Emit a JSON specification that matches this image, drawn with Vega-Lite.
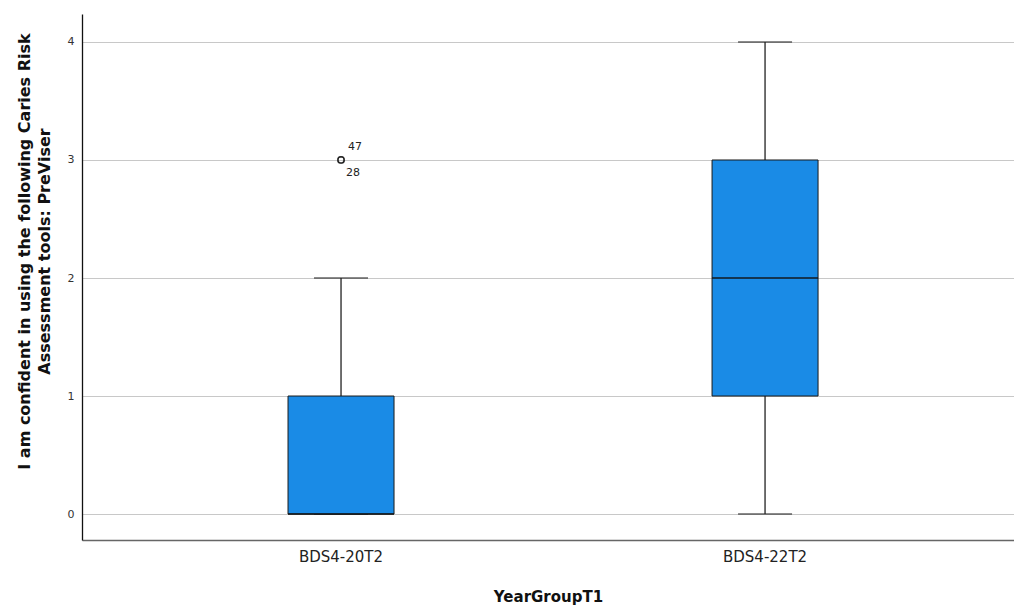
{
  "$schema": "https://vega.github.io/schema/vega-lite/v6.json",
  "autosize": "none",
  "width": 932,
  "height": 526,
  "padding": {"left": 82, "top": 14, "right": 0, "bottom": 68},
  "background": "white",
  "datasets": {
    "stats": [
      {"group": "BDS4-20T2", "min": 0, "q1": 0, "median": 0, "q3": 1, "max": 2},
      {"group": "BDS4-22T2", "min": 0, "q1": 1, "median": 2, "q3": 3, "max": 4}
    ],
    "outliers": [
      {"group": "BDS4-20T2", "value": 3, "label": "47"},
      {"group": "BDS4-20T2", "value": 3, "label": "28"}
    ]
  },
  "config": {
    "view": {"stroke": null},
    "font": "DejaVu Sans"
  },
  "encoding": {
    "x": {
      "field": "group",
      "type": "nominal",
      "sort": ["BDS4-20T2", "BDS4-22T2"],
      "scale": {"paddingOuter": 0.099, "paddingInner": 0, "align": 0.56},
      "axis": {
        "title": "YearGroupT1",
        "titleFontSize": 15,
        "titleFontWeight": "bold",
        "titleColor": "#111",
        "titlePadding": 25,
        "labelAngle": 0,
        "labelFontSize": 15,
        "labelColor": "#222",
        "labelPadding": 9,
        "ticks": false,
        "domainColor": "#666",
        "domainWidth": 1.5,
        "grid": false
      }
    }
  },
  "layer": [
    {
      "data": {"name": "stats"},
      "mark": {"type": "rule", "color": "#222", "strokeWidth": 1.3},
      "encoding": {
        "y": {
          "field": "min",
          "type": "quantitative",
          "scale": {"domain": [-0.22, 4.237], "nice": false, "zero": false},
          "axis": {
            "title": ["I am confident in using the following Caries Risk", "Assessment tools: PreViser"],
            "titleFontSize": 16,
            "titleFontWeight": "bold",
            "titleColor": "#111",
            "titleLineHeight": 20,
            "titleX": -50,
            "titleY": 237,
            "values": [0, 1, 2, 3, 4],
            "format": "d",
            "labelFontSize": 11,
            "labelColor": "#333",
            "labelPadding": 8,
            "ticks": false,
            "domainColor": "#111",
            "domainWidth": 1.3,
            "grid": true,
            "gridColor": "#c8c8c8",
            "gridWidth": 1.2
          }
        },
        "y2": {"field": "max"}
      }
    },
    {
      "data": {"name": "stats"},
      "mark": {"type": "tick", "color": "#222", "size": 54, "thickness": 1.5},
      "encoding": {"y": {"field": "min", "type": "quantitative"}}
    },
    {
      "data": {"name": "stats"},
      "mark": {"type": "tick", "color": "#222", "size": 54, "thickness": 1.5},
      "encoding": {"y": {"field": "max", "type": "quantitative"}}
    },
    {
      "data": {"name": "stats"},
      "mark": {"type": "bar", "size": 106, "color": "#1a8be6", "stroke": "#1a1a1a", "strokeWidth": 1},
      "encoding": {
        "y": {"field": "q1", "type": "quantitative"},
        "y2": {"field": "q3"}
      }
    },
    {
      "data": {"name": "stats"},
      "mark": {"type": "tick", "color": "#111", "size": 106, "thickness": 2},
      "encoding": {"y": {"field": "median", "type": "quantitative"}}
    },
    {
      "data": {"name": "outliers"},
      "mark": {"type": "point", "shape": "circle", "size": 40, "filled": false, "color": "#111", "strokeWidth": 1.4},
      "encoding": {"y": {"field": "value", "type": "quantitative"}}
    },
    {
      "data": {"name": "outliers"},
      "transform": [{"filter": "datum.label == '47'"}],
      "mark": {"type": "text", "dx": 14, "dy": -13, "fontSize": 11, "color": "#222"},
      "encoding": {"y": {"field": "value", "type": "quantitative"}, "text": {"field": "label"}}
    },
    {
      "data": {"name": "outliers"},
      "transform": [{"filter": "datum.label == '28'"}],
      "mark": {"type": "text", "dx": 12, "dy": 13, "fontSize": 11, "color": "#222"},
      "encoding": {"y": {"field": "value", "type": "quantitative"}, "text": {"field": "label"}}
    }
  ]
}
